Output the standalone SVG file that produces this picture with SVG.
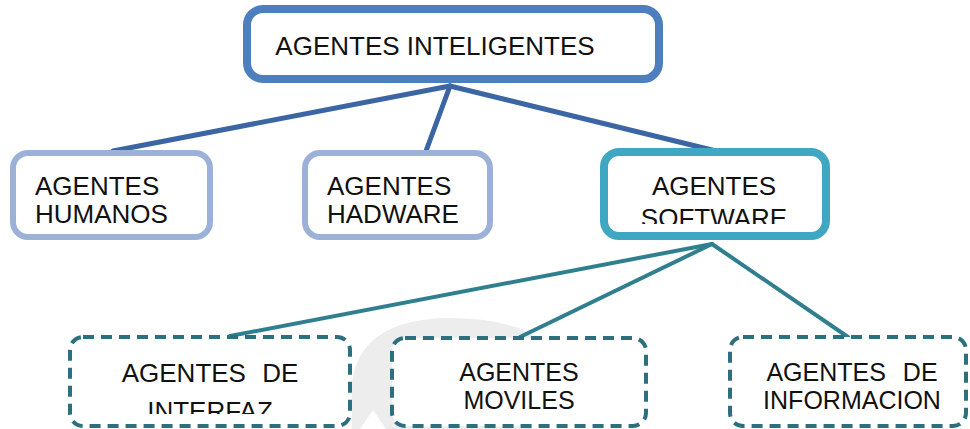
<svg xmlns="http://www.w3.org/2000/svg" width="970" height="429" viewBox="0 0 970 429">
  <style>
    .lbl { font-family: "Liberation Sans", Arial, sans-serif; font-size: 26px; fill: #111; }
    .sm { font-size: 25px; }
    .root { fill: #fff; stroke: #4d7fbe; stroke-width: 8; }
    .mid { fill: #fff; stroke: #9bb1d8; stroke-width: 6; }
    .soft { fill: #fff; stroke: #3fa7c1; stroke-width: 8; }
    .leaf { fill: #fff; stroke: #2d6f7e; stroke-width: 4; stroke-dasharray: 11 7; }
    .up { stroke: #3b66a3; stroke-width: 5; fill: none; stroke-linecap: round; }
    .down { stroke: #2f7f8e; stroke-width: 4; fill: none; stroke-linecap: round; }
  </style>
  <defs>
    <clipPath id="clipMid"><rect x="0" y="140" width="970" height="84"/></clipPath>
    <clipPath id="clipLow"><rect x="0" y="330" width="970" height="84"/></clipPath>
  </defs>

  <rect width="970" height="429" fill="#fff"/>

  <!-- faint background emblem -->
  <g id="emblem">
    <path d="M 352 429 L 352 382 Q 360 322 442 318 Q 500 317 532 334 L 532 429 Z" fill="#ededed"/>
    <path d="M 360 429 L 373 410 L 386 429 Z" fill="#fff"/>
  </g>

  <!-- connectors -->
  <g id="connectors">
    <line class="up" x1="450" y1="86" x2="113" y2="151"/>
    <line class="up" x1="450" y1="86" x2="426" y2="151"/>
    <line class="up" x1="450" y1="86" x2="716" y2="151"/>
    <line class="down" x1="712" y1="244" x2="230" y2="336"/>
    <line class="down" x1="712" y1="244" x2="520" y2="337"/>
    <line class="down" x1="712" y1="244" x2="848" y2="337"/>
  </g>

  <g id="agentes-inteligentes">
    <rect class="root" x="247" y="9" width="412" height="70" rx="16"/>
    <text class="lbl" x="435" y="55" text-anchor="middle">AGENTES INTELIGENTES</text>
  </g>

  <g id="agentes-humanos">
    <rect class="mid" x="13" y="153" width="197" height="84" rx="15"/>
    <g clip-path="url(#clipMid)">
      <text class="lbl" x="35" y="195">AGENTES</text>
      <text class="lbl" x="35" y="223">HUMANOS</text>
    </g>
  </g>

  <g id="agentes-hadware">
    <rect class="mid" x="305" y="153" width="185" height="84" rx="15"/>
    <g clip-path="url(#clipMid)">
      <text class="lbl" x="327" y="195">AGENTES</text>
      <text class="lbl" x="327" y="223">HADWARE</text>
    </g>
  </g>

  <g id="agentes-software">
    <rect class="soft" x="604" y="152" width="222" height="84" rx="15"/>
    <g clip-path="url(#clipMid)">
      <text class="lbl" x="714" y="195" text-anchor="middle">AGENTES</text>
      <text class="lbl" x="714" y="227" text-anchor="middle">SOFTWARE</text>
    </g>
  </g>

  <g id="agentes-interfaz">
    <rect class="leaf" x="70" y="337" width="280" height="89" rx="13"/>
    <g clip-path="url(#clipLow)">
      <text class="lbl" x="210" y="382" text-anchor="middle" word-spacing="9">AGENTES DE</text>
      <text class="lbl" x="210" y="420" text-anchor="middle">INTERFAZ</text>
    </g>
  </g>

  <g id="agentes-moviles">
    <rect class="leaf" x="392" y="338" width="254" height="88" rx="13"/>
    <text class="lbl sm" x="519" y="381" text-anchor="middle">AGENTES</text>
    <text class="lbl sm" x="519" y="409" text-anchor="middle">MOVILES</text>
  </g>

  <g id="agentes-informacion">
    <rect class="leaf" x="730" y="337" width="236" height="89" rx="13"/>
    <text class="lbl sm" x="852" y="381" text-anchor="middle" word-spacing="10">AGENTES DE</text>
    <text class="lbl sm" x="852" y="409" text-anchor="middle">INFORMACION</text>
  </g>
</svg>
